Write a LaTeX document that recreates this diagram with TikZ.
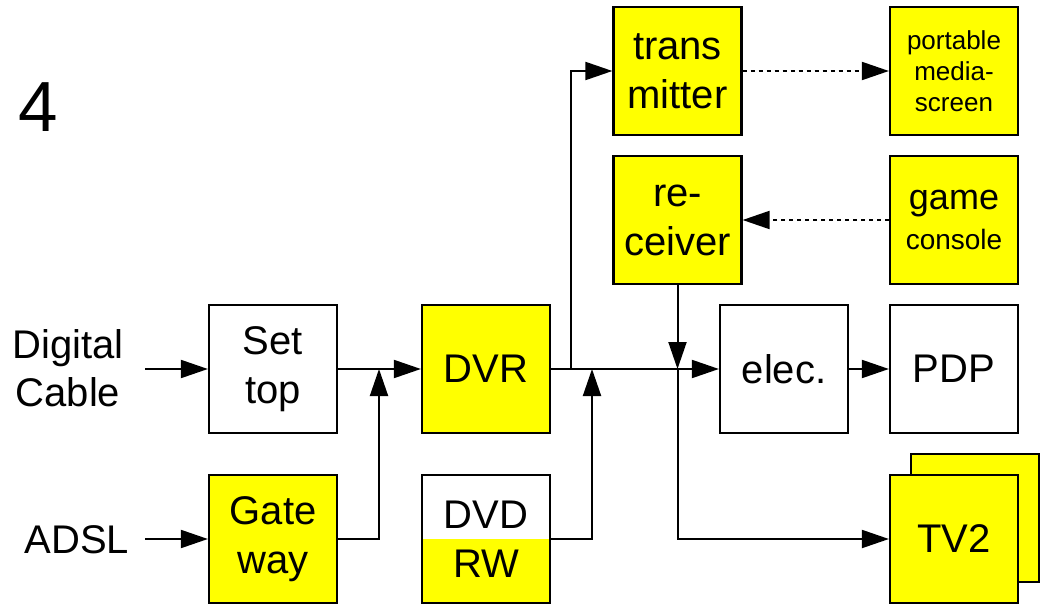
\documentclass[tikz,border=0pt]{standalone}
\usepackage{fontspec}
\setmainfont{Liberation Sans}
\usetikzlibrary{arrows.meta}
\definecolor{boxyellow}{RGB}{255,255,0}
\tikzset{
  blk/.style={draw=black, line width=2.2pt, minimum width=128pt, minimum height=128pt, inner sep=0pt, align=center, font=\fontsize{40}{49}\selectfont},
  yel/.style={blk, fill=boxyellow},
  wht/.style={blk, fill=white},
  arr/.style={line width=2pt, -{Triangle[length=27pt,width=18pt]}},
  dotarr/.style={arr, dash pattern=on 4pt off 4pt},
  lbl/.style={align=center, inner sep=0pt, font=\fontsize{40}{48}\selectfont},
  small/.style={font=\fontsize{26}{31}\selectfont}
}
\begin{document}
\begin{tikzpicture}[x=1pt,y=-1pt]
\useasboundingbox (0,0) rectangle (1045,605);
\node[lbl, font=\fontsize{71}{80}\selectfont] (four) at (38,107) {4};
\node[lbl] (cable) at (68,368) {Digital\\Cable};
\node[lbl] (adsl) at (77,540) {ADSL};
\coordinate (cin) at (145,369);
\coordinate (ain) at (145,539);

\node[wht] (settop) at (273,369) {Set\\top};
\node[yel] (gateway) at (273,539) {Gate\\way};
\node[yel] (dvr) at (486,369) {DVR};
\node[wht, path picture={\fill[boxyellow] (path picture bounding box.west) rectangle (path picture bounding box.south east);}] (dvd) at (486,539) {DVD\\RW};
\node[yel] (trans) at (677.5,71) {trans\\mitter};
\node[yel] (recv) at (677.5,220) {re-\\ceiver};
\node[yel, small] (portable) at (954,71) {portable\\media-\\screen};
\node[yel, font=\fontsize{36}{40}\selectfont] (game) at (954,220) {game\\{\fontsize{28}{34}\selectfont console}};
\node[wht] (elec) at (784,369) {elec.};
\node[wht] (pdp) at (954,369) {PDP};
\node[yel] (tv2back) at (975,518) {};
\node[yel] (tv2) at (954,539) {TV2};

\coordinate (j1) at (379,369);
\coordinate (j2) at (571,369);
\coordinate (j3) at (592,369);
\coordinate (j4) at (677.5,369);

\draw[arr] (cin) -- (settop.west);
\draw[arr] (ain) -- (gateway.west);
\draw[arr] (settop.east) -- (dvr.west);
\draw[arr] (gateway.east) -| (j1);
\draw[arr] (dvr.east) -- (elec.west);
\draw[arr] (j2) |- (trans.west);
\draw[arr] (dvd.east) -| (j3);
\draw[arr] (recv.south) -- (j4);
\draw[arr] (j4) |- (tv2.west);
\draw[arr] (elec.east) -- (pdp.west);
\draw[dotarr] (trans.east) -- (portable.west);
\draw[dotarr] (game.west) -- (recv.east);
\end{tikzpicture}
\end{document}
